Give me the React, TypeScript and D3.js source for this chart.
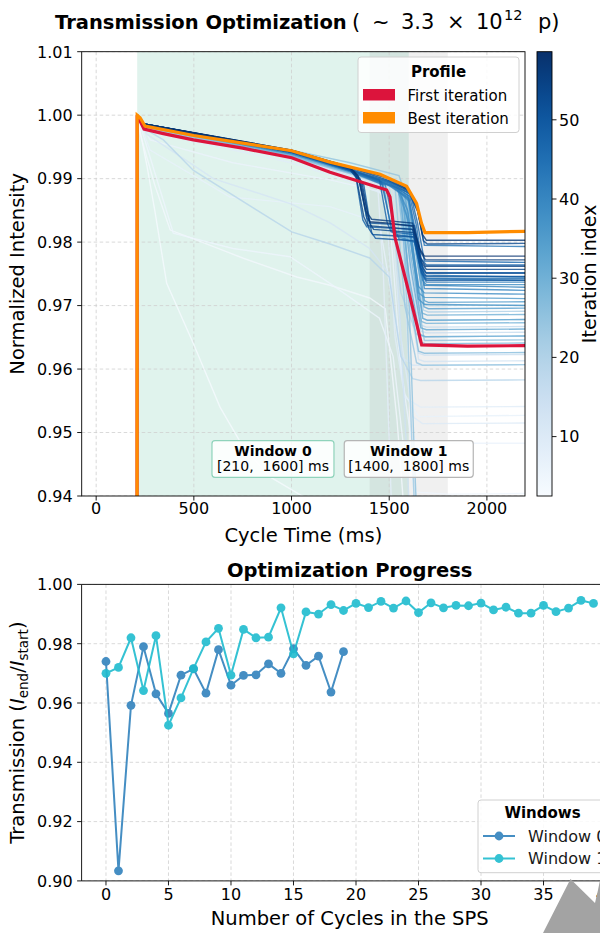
import * as d3 from 'd3'

type Pt = [number, number]

// ---------- top panel: profiles ----------
const timeTicks = [0, 500, 1000, 1500, 2000]
const intensityTicks = [0.94, 0.95, 0.96, 0.97, 0.98, 0.99, 1.0, 1.01]
const iterTicks = [10, 20, 30, 40, 50]
const windowNames = ['Window 0', 'Window 1']
const windowStart = [210, 1400]
const windowEnd = [1600, 1800]

// iteration index of each trace
const traceIter = [
  3, 4, 5, 6, 7, 8, 9, 10, 11, 12, 13, 14, 15, 16, 17, 18, 19, 20, 21, 22, 23, 24, 25, 26, 27, 28,
  29, 30, 31, 32, 33, 34, 35, 36, 37, 38, 39, 40, 41, 42, 43, 44, 45, 46, 47, 48, 49, 50, 51, 52,
  53, 54, 55, 56, 57, 58,
]
// [time ms, normalized intensity] key points
const tracePts: Pt[][] = [
  [[210, 1], [225, 0.9975], [260, 0.992], [300, 0.985], [361, 0.9735], [498, 0.964], [634, 0.954], [753, 0.9477], [890, 0.943], [1060, 0.9399], [1250, 0.936]],
  [[210, 1], [225, 0.9971], [300, 0.989], [379, 0.9819], [515, 0.9803], [750, 0.9775], [1027, 0.9745], [1197, 0.9732], [1400, 0.9712], [1480, 0.9695], [1540, 0.952], [1580, 0.936]],
  [[210, 1], [240, 0.997], [395, 0.9814], [700, 0.979], [992, 0.9777], [1197, 0.9735], [1450, 0.968], [1520, 0.962], [1580, 0.946], [1640, 0.9406], [1800, 0.9403], [2195, 0.9404]],
  [[210, 1], [276, 0.9961], [700, 0.9925], [1197, 0.9898], [1450, 0.988], [1500, 0.985], [1560, 0.96], [1610, 0.9495], [1660, 0.9483], [2195, 0.9483]],
  [[210, 1], [276, 0.9945], [685, 0.9871], [1197, 0.9856], [1450, 0.983], [1520, 0.97], [1580, 0.956], [1650, 0.9525], [2195, 0.9527]],
  [[210, 1], [240, 0.9983], [1000, 0.9935], [1300, 0.991], [1440, 0.9895], [1470, 0.975], [1510, 0.94], [1530, 0.93]],
  [[210, 1], [250, 0.9975], [1000, 0.9925], [1300, 0.9895], [1480, 0.9875], [1530, 0.965], [1580, 0.9555], [1660, 0.954], [2195, 0.9541]],
  [[210, 1], [250, 0.998], [1000, 0.993], [1300, 0.99], [1500, 0.9885], [1560, 0.965], [1620, 0.9525], [1670, 0.9514], [2195, 0.9515]],
  [[210, 1], [240, 0.998], [1000, 0.9932], [1300, 0.9905], [1560, 0.988], [1600, 0.96], [1630, 0.94], [1650, 0.93]],
  [[210, 1], [260, 0.997], [600, 0.99], [1000, 0.986], [1200, 0.983], [1400, 0.979], [1500, 0.975], [1560, 0.962], [1620, 0.9606], [2195, 0.9607]],
  [[210, 1], [245, 0.998], [1000, 0.9932], [1300, 0.9905], [1550, 0.9885], [1600, 0.975], [1650, 0.9615], [1680, 0.9612], [2195, 0.9613]],
  [[210, 1], [245, 0.998], [1000, 0.9935], [1300, 0.991], [1520, 0.9885], [1560, 0.965], [1600, 0.94], [1620, 0.93]],
  [[210, 1], [245, 0.998], [1000, 0.9935], [1300, 0.991], [1540, 0.9887], [1590, 0.972], [1650, 0.9625], [1680, 0.9622], [2195, 0.9623]],
  [[210, 1], [245, 0.998], [1000, 0.9934], [1300, 0.9908], [1560, 0.9887], [1610, 0.975], [1660, 0.966], [1690, 0.9657], [2195, 0.9658]],
  [[210, 1], [245, 0.9981], [1000, 0.9936], [1300, 0.991], [1570, 0.9886], [1615, 0.976], [1665, 0.9669], [1690, 0.9666], [2195, 0.9667]],
  [[210, 1], [245, 0.9982], [1000, 0.9937], [1300, 0.9911], [1575, 0.9886], [1620, 0.977], [1670, 0.968], [1695, 0.9677], [2195, 0.9678]],
  [[210, 1], [240, 0.998], [344, 0.9961], [498, 0.9913], [1001, 0.9816], [1197, 0.9797], [1400, 0.9775], [1500, 0.9745], [1560, 0.962], [1620, 0.9585], [1660, 0.9582], [2195, 0.9583]],
  [[210, 1], [245, 0.998], [1000, 0.9935], [1300, 0.9908], [1500, 0.9888], [1560, 0.972], [1640, 0.9655], [1680, 0.9651], [2195, 0.9652]],
  [[210, 1], [245, 0.9982], [1000, 0.9937], [1300, 0.9911], [1580, 0.9887], [1630, 0.977], [1675, 0.9693], [1700, 0.969], [2195, 0.9691]],
  [[210, 1], [245, 0.9982], [1000, 0.9938], [1300, 0.9912], [1585, 0.9888], [1635, 0.978], [1680, 0.9703], [1700, 0.97], [2195, 0.9701]],
  [[210, 1], [245, 0.998], [1000, 0.9935], [1300, 0.991], [1560, 0.9887], [1590, 0.97], [1620, 0.945], [1640, 0.93]],
  [[210, 1], [245, 0.998], [1000, 0.9934], [1300, 0.9908], [1530, 0.9886], [1580, 0.97], [1640, 0.961], [1670, 0.9606], [2195, 0.9607]],
  [[210, 1], [245, 0.9984], [1000, 0.9945], [1300, 0.9925], [1550, 0.9905], [1600, 0.986], [1650, 0.97], [1680, 0.9645], [2195, 0.9646]],
  [[210, 1], [245, 0.9982], [1000, 0.9936], [1300, 0.991], [1570, 0.9886], [1600, 0.972], [1630, 0.945], [1650, 0.93]],
  [[210, 1], [245, 0.9982], [1000, 0.9936], [1300, 0.9909], [1545, 0.9886], [1600, 0.972], [1650, 0.9628], [1680, 0.9625], [2195, 0.9626]],
  [[210, 1], [245, 0.9982], [1000, 0.9937], [1300, 0.991], [1555, 0.9887], [1605, 0.973], [1655, 0.9643], [1685, 0.964], [2195, 0.9641]],
  [[210, 1], [245, 0.9983], [1000, 0.9938], [1300, 0.9911], [1560, 0.9888], [1610, 0.978], [1665, 0.9675], [1690, 0.9672], [2195, 0.9673]],
  [[210, 1], [245, 0.9983], [1000, 0.9939], [1300, 0.9912], [1570, 0.9888], [1620, 0.978], [1670, 0.9688], [1695, 0.9685], [2195, 0.9686]],
  [[210, 1], [245, 0.9983], [1000, 0.9938], [1300, 0.991], [1550, 0.9887], [1600, 0.975], [1655, 0.9655], [1685, 0.9651], [2195, 0.9652]],
  [[210, 1], [245, 0.9983], [1000, 0.9939], [1300, 0.9911], [1560, 0.9887], [1610, 0.976], [1662, 0.9665], [1690, 0.9662], [2195, 0.9663]],
  [[210, 1], [245, 0.9984], [1000, 0.9939], [1300, 0.9912], [1575, 0.9888], [1625, 0.978], [1672, 0.968], [1695, 0.9677], [2195, 0.9678]],
  [[210, 1], [245, 0.9984], [1000, 0.994], [1300, 0.9913], [1585, 0.9888], [1635, 0.979], [1678, 0.9698], [1700, 0.9695], [2195, 0.9696]],
  [[210, 1], [245, 0.9984], [1000, 0.994], [1300, 0.9913], [1590, 0.9886], [1640, 0.979], [1680, 0.9708], [1700, 0.9705], [2195, 0.9706]],
  [[210, 1], [245, 0.9984], [1000, 0.994], [1300, 0.9913], [1540, 0.9885], [1590, 0.984], [1650, 0.972], [1680, 0.9713], [2195, 0.9711]],
  [[210, 1], [245, 0.9984], [1000, 0.9939], [1300, 0.9912], [1550, 0.9885], [1600, 0.983], [1650, 0.971], [1680, 0.9702], [2195, 0.97]],
  [[210, 1], [245, 0.9984], [1000, 0.994], [1300, 0.9913], [1540, 0.9886], [1595, 0.985], [1650, 0.973], [1680, 0.972], [2195, 0.9718]],
  [[210, 1], [245, 0.9984], [1000, 0.994], [1300, 0.9911], [1470, 0.989], [1510, 0.982], [1530, 0.981], [1630, 0.98], [1670, 0.974], [1690, 0.9733], [2195, 0.9733]],
  [[210, 1], [245, 0.9985], [1000, 0.9941], [1300, 0.9912], [1520, 0.9888], [1600, 0.9865], [1645, 0.979], [1680, 0.9727], [2195, 0.9724]],
  [[210, 1], [245, 0.9985], [1000, 0.9941], [1300, 0.9913], [1500, 0.9889], [1600, 0.9868], [1640, 0.98], [1680, 0.9732], [2195, 0.9729]],
  [[210, 1], [245, 0.9985], [1000, 0.9941], [1300, 0.9913], [1500, 0.989], [1600, 0.987], [1640, 0.981], [1680, 0.9742], [2195, 0.974]],
  [[210, 1], [245, 0.9985], [1000, 0.9941], [1300, 0.9912], [1480, 0.989], [1530, 0.982], [1550, 0.9805], [1630, 0.98], [1665, 0.975], [1690, 0.9737], [2195, 0.9737]],
  [[210, 1], [245, 0.9985], [1000, 0.9942], [1300, 0.9914], [1600, 0.9878], [1650, 0.9845], [1680, 0.9795], [2195, 0.9793]],
  [[210, 1], [245, 0.9985], [1000, 0.9942], [1300, 0.9914], [1500, 0.9893], [1605, 0.9872], [1640, 0.9825], [1675, 0.9748], [2195, 0.9745]],
  [[210, 1], [245, 0.9985], [1000, 0.9942], [1300, 0.9913], [1460, 0.9895], [1510, 0.9825], [1530, 0.9812], [1630, 0.9808], [1665, 0.9755], [1690, 0.9743], [2195, 0.9743]],
  [[210, 1], [245, 0.9985], [1000, 0.9942], [1300, 0.9915], [1500, 0.9895], [1610, 0.9875], [1645, 0.983], [1680, 0.977], [2195, 0.9768]],
  [[210, 1], [245, 0.9985], [1000, 0.9942], [1300, 0.9914], [1450, 0.9898], [1490, 0.983], [1510, 0.9816], [1625, 0.9812], [1660, 0.9775], [1690, 0.9764], [2195, 0.9764]],
  [[210, 1], [245, 0.9985], [1000, 0.9942], [1300, 0.9915], [1330, 0.9902], [1365, 0.9835], [1385, 0.9824], [1620, 0.982], [1660, 0.9765], [1685, 0.9752], [2195, 0.9752]],
  [[210, 1], [245, 0.9985], [1000, 0.9942], [1300, 0.9913], [1370, 0.989], [1410, 0.9815], [1430, 0.9806], [1630, 0.9802], [1665, 0.9752], [1690, 0.974], [2195, 0.974]],
  [[210, 1], [245, 0.9986], [1000, 0.9943], [1300, 0.9914], [1350, 0.9895], [1395, 0.9822], [1415, 0.9812], [1625, 0.9808], [1660, 0.976], [1690, 0.9746], [2195, 0.9746]],
  [[210, 1], [245, 0.9986], [1000, 0.9943], [1300, 0.9916], [1345, 0.9898], [1385, 0.9838], [1405, 0.983], [1630, 0.9826], [1665, 0.9765], [1690, 0.9751], [2195, 0.9751]],
  [[210, 1], [245, 0.9986], [1000, 0.9944], [1300, 0.9917], [1500, 0.9897], [1600, 0.988], [1645, 0.985], [1675, 0.9802], [1695, 0.9797], [2195, 0.9798]],
  [[210, 1], [245, 0.9986], [1000, 0.9943], [1300, 0.9915], [1360, 0.9895], [1400, 0.983], [1420, 0.982], [1625, 0.9815], [1660, 0.977], [1690, 0.9757], [2195, 0.9757]],
  [[210, 1], [245, 0.9986], [1000, 0.9944], [1300, 0.9916], [1330, 0.9905], [1370, 0.984], [1390, 0.9826], [1620, 0.982], [1660, 0.9775], [1685, 0.9762], [2195, 0.9762]],
  [[210, 1], [245, 0.9986], [1000, 0.9944], [1300, 0.9917], [1350, 0.99], [1390, 0.9845], [1410, 0.9836], [1620, 0.983], [1660, 0.9785], [1685, 0.9772], [2195, 0.9772]],
  [[210, 1], [245, 0.9986], [1000, 0.9945], [1300, 0.9918], [1500, 0.99], [1600, 0.9882], [1640, 0.9858], [1670, 0.9812], [1690, 0.9803], [2195, 0.9803]],
  [[210, 1], [245, 0.9986], [1000, 0.9945], [1300, 0.9918], [1340, 0.9905], [1380, 0.985], [1400, 0.9832], [1500, 0.983], [1620, 0.9825], [1655, 0.979], [1680, 0.9778], [2195, 0.9778]],
]

const firstIteration: Pt[] = [
  [209, 0.9], [210, 1.0], [245, 0.9978], [344, 0.9971], [498, 0.9961], [750, 0.9948], [1001, 0.9933],
  [1197, 0.991], [1487, 0.9882], [1504, 0.9871], [1529, 0.9808], [1589, 0.9735], [1640, 0.9672],
  [1666, 0.9638], [1900, 0.9636], [2195, 0.9637],
]
const bestIteration: Pt[] = [
  [209, 0.9], [210, 1.0], [225, 0.9996], [250, 0.9983], [500, 0.9968], [750, 0.9956], [1000, 0.9944],
  [1197, 0.9926], [1453, 0.9907], [1589, 0.9888], [1640, 0.9861], [1665, 0.983], [1683, 0.9815],
  [1900, 0.9815], [2195, 0.9817],
]

// ---------- bottom panel: progress ----------
const cycleTicks = [0, 5, 10, 15, 20, 25, 30, 35, 40]
const transTicks = [0.9, 0.92, 0.94, 0.96, 0.98, 1.0]
const window0 = [
  0.974, 0.9034, 0.9592, 0.979, 0.9631, 0.9565, 0.9694, 0.9715, 0.9633, 0.978, 0.966, 0.9693,
  0.9695, 0.9732, 0.97, 0.9783, 0.9727, 0.9758, 0.9637, 0.9773,
]
const window1 = [
  0.97, 0.972, 0.982, 0.9642, 0.9827, 0.9525, 0.9617, 0.9716, 0.9806, 0.9852, 0.9694, 0.9848,
  0.982, 0.9822, 0.9921, 0.9766, 0.9907, 0.99, 0.9932, 0.9912, 0.9936, 0.9922, 0.9943, 0.992,
  0.9944, 0.9905, 0.9938, 0.9921, 0.9929, 0.9928, 0.9937, 0.9914, 0.9923, 0.9903, 0.9903,
  0.9929, 0.9908, 0.992, 0.9946, 0.9936,
]
const seriesNames = ['Window 0', 'Window 1']
const seriesColors = ['#3182bd', '#1fbccf']

const FONT = 'DejaVu Sans, sans-serif'

export default function App() {
  // top axes
  const x = d3.scaleLinear().domain([-74, 2195]).range([81.7, 525])
  const y = d3.scaleLinear().domain([0.94, 1.01]).range([496, 51.7])
  const cScale = d3.scaleSequential(d3.interpolateBlues).domain([2.5, 58.6])
  const cbY = d3.scaleLinear().domain([2.5, 58.6]).range([496, 51.7])
  const line = d3
    .line<Pt>()
    .x((d) => x(d[0]))
    .y((d) => y(d[1]))

  // bottom axes
  const bx = d3.scaleLinear().domain([-1.95, 40.95]).range([81.6, 617.9])
  const by = d3.scaleLinear().domain([0.9, 1.0]).range([880.9, 584.4])
  const bline = d3
    .line<number>()
    .x((_, i) => bx(i))
    .y((d) => by(d))

  const [xl, xr] = x.range()
  const [yb, yt] = y.range()
  const [bxl] = bx.range()
  const [byb, byt] = by.range()
  const gridStyle = { stroke: '#cfcfcf', strokeWidth: 0.8, strokeDasharray: '3.5 2.5' }

  return (
    <svg
      width={600}
      height={933}
      style={{ position: 'absolute', left: 0, top: 0, background: '#fff' }}
      fontFamily={FONT}
    >
      <defs>
        <clipPath id="topClip">
          <rect x={xl} y={yt} width={xr - xl} height={yb - yt} />
        </clipPath>
        <clipPath id="botClip">
          <rect x={bxl} y={byt} width={600 - bxl} height={byb - byt} />
        </clipPath>
        <linearGradient id="cbar" x1="0" y1="1" x2="0" y2="0">
          {d3.range(0, 1.0001, 0.05).map((t) => (
            <stop key={t} offset={t} stopColor={d3.interpolateBlues(t)} />
          ))}
        </linearGradient>
      </defs>

      {/* ---------- title ---------- */}
      <text x={55} y={29} fontSize={19.5} fontWeight="bold">
        Transmission Optimization
      </text>
      <g fontSize={21}>
        <text x={352} y={29}>(</text>
        <text x={372} y={29}>~</text>
        <text x={401} y={29}>3.3</text>
        <text x={447} y={29}>×</text>
        <text x={476} y={29}>10</text>
        <text x={504} y={20} fontSize={14.5}>12</text>
        <text x={538} y={29}>p)</text>
      </g>

      {/* ---------- top panel ---------- */}
      <g clipPath="url(#topClip)">
        <rect x={x(windowStart[0])} y={yt} width={x(windowEnd[0]) - x(windowStart[0])} height={yb - yt} fill="#66c2a5" opacity={0.2} />
        <rect x={x(windowStart[1])} y={yt} width={x(windowEnd[1]) - x(windowStart[1])} height={yb - yt} fill="#808080" opacity={0.12} />
        {timeTicks.map((t) => (
          <line key={'gx' + t} x1={x(t)} x2={x(t)} y1={yt} y2={yb} style={gridStyle} />
        ))}
        {intensityTicks.map((v) => (
          <line key={'gy' + v} x1={xl} x2={xr} y1={y(v)} y2={y(v)} style={gridStyle} />
        ))}
        {tracePts.map((pts, i) => (
          <path
            key={'tr' + i}
            d={line(pts) ?? undefined}
            fill="none"
            stroke={cScale(traceIter[i])}
            strokeWidth={1.4}
            strokeOpacity={0.8}
          />
        ))}
        <path d={line(firstIteration) ?? undefined} fill="none" stroke="#dc143c" strokeWidth={3.2} />
        <path d={line(bestIteration) ?? undefined} fill="none" stroke="#ff8c00" strokeWidth={3.2} />
      </g>

      {/* window annotations */}
      {windowNames.map((nm, i) => {
        const cx = x((windowStart[i] + windowEnd[i]) / 2)
        const w = i === 0 ? 122 : 129
        return (
          <g key={nm}>
            <rect
              x={cx - w / 2}
              y={440.7}
              width={w}
              height={36.6}
              rx={3}
              fill="#fff"
              fillOpacity={0.85}
              stroke={i === 0 ? '#8fd3bb' : '#b5b5b5'}
              strokeWidth={1.2}
            />
            <text x={cx} y={456} textAnchor="middle" fontSize={14} fontWeight="bold">
              {nm}
            </text>
            <text x={cx} y={471} textAnchor="middle" fontSize={14} style={{ whiteSpace: 'pre' }}>
              {`[${windowStart[i]},  ${windowEnd[i]}] ms`}
            </text>
          </g>
        )
      })}

      {/* frame */}
      <rect x={xl} y={yt} width={xr - xl} height={yb - yt} fill="none" stroke="#000" strokeWidth={0.9} />
      {timeTicks.map((t) => (
        <g key={'xt' + t}>
          <line x1={x(t)} x2={x(t)} y1={yb} y2={yb + 4.5} stroke="#000" strokeWidth={0.9} />
          <text x={x(t)} y={514} textAnchor="middle" fontSize={16}>
            {t}
          </text>
        </g>
      ))}
      {intensityTicks.map((v) => (
        <g key={'yt' + v}>
          <line x1={xl - 4.5} x2={xl} y1={y(v)} y2={y(v)} stroke="#000" strokeWidth={0.9} />
          <text x={xl - 9} y={y(v) + 5.8} textAnchor="end" fontSize={16}>
            {v.toFixed(2)}
          </text>
        </g>
      ))}
      <text x={(xl + xr) / 2} y={542} textAnchor="middle" fontSize={19.5}>
        Cycle Time (ms)
      </text>
      <text transform={`translate(24,${(yt + yb) / 2}) rotate(-90)`} textAnchor="middle" fontSize={19.5}>
        Normalized Intensity
      </text>

      {/* legend: Profile */}
      <rect x={358} y={57} width={161} height={75.5} rx={3} fill="#fff" fillOpacity={0.85} stroke="#d0d0d0" />
      <text x={438.5} y={77} textAnchor="middle" fontSize={15} fontWeight="bold">
        Profile
      </text>
      <rect x={363} y={89} width={32} height={11.5} fill="#dc143c" />
      <text x={407.5} y={100.5} fontSize={15}>
        First iteration
      </text>
      <rect x={363} y={112} width={32} height={11.5} fill="#ff8c00" />
      <text x={407.5} y={123.5} fontSize={15}>
        Best iteration
      </text>

      {/* colorbar */}
      <rect x={537} y={yt} width={15} height={yb - yt} fill="url(#cbar)" stroke="#000" strokeWidth={0.9} />
      {iterTicks.map((v) => (
        <g key={'cb' + v}>
          <line x1={552} x2={556.5} y1={cbY(v)} y2={cbY(v)} stroke="#000" strokeWidth={0.9} />
          <text x={559} y={cbY(v) + 5.8} fontSize={16}>
            {v}
          </text>
        </g>
      ))}
      <text transform={`translate(595.5,${(yt + yb) / 2}) rotate(-90)`} textAnchor="middle" fontSize={19}>
        Iteration index
      </text>

      {/* ---------- bottom panel ---------- */}
      <text x={(bx.range()[0] + bx.range()[1]) / 2} y={577} textAnchor="middle" fontSize={19.5} fontWeight="bold">
        Optimization Progress
      </text>
      <g clipPath="url(#botClip)">
        {cycleTicks.map((t) => (
          <line key={'bgx' + t} x1={bx(t)} x2={bx(t)} y1={byt} y2={byb} style={gridStyle} />
        ))}
        {transTicks.map((v) => (
          <line key={'bgy' + v} x1={bxl} x2={600} y1={by(v)} y2={by(v)} style={gridStyle} />
        ))}
        {[window0, window1].map((vals, k) => (
          <g key={'s' + k} opacity={0.9}>
            <path d={bline(vals) ?? undefined} fill="none" stroke={seriesColors[k]} strokeWidth={2} />
            {vals.map((v, i) => (
              <circle key={i} cx={bx(i)} cy={by(v)} r={4.4} fill={seriesColors[k]} />
            ))}
          </g>
        ))}
      </g>
      <line x1={bxl} x2={600} y1={byt} y2={byt} stroke="#000" strokeWidth={0.9} />
      <line x1={bxl} x2={600} y1={byb} y2={byb} stroke="#000" strokeWidth={0.9} />
      <line x1={bxl} x2={bxl} y1={byt} y2={byb} stroke="#000" strokeWidth={0.9} />
      {cycleTicks.map((t) => (
        <g key={'bxt' + t}>
          <line x1={bx(t)} x2={bx(t)} y1={byb} y2={byb + 4.5} stroke="#000" strokeWidth={0.9} />
          <text x={bx(t)} y={900} textAnchor="middle" fontSize={16}>
            {t}
          </text>
        </g>
      ))}
      {transTicks.map((v) => (
        <g key={'byt' + v}>
          <line x1={bxl - 4.5} x2={bxl} y1={by(v)} y2={by(v)} stroke="#000" strokeWidth={0.9} />
          <text x={bxl - 9} y={by(v) + 5.8} textAnchor="end" fontSize={16}>
            {v.toFixed(2)}
          </text>
        </g>
      ))}
      <text x={349.7} y={925} textAnchor="middle" fontSize={19.5}>
        Number of Cycles in the SPS
      </text>
      <text transform={`translate(24,${(byt + byb) / 2}) rotate(-90)`} textAnchor="middle" fontSize={19.5}>
        <tspan>Transmission (</tspan>
        <tspan fontStyle="italic">I</tspan>
        <tspan fontSize={13.5} dy={4}>end</tspan>
        <tspan dy={-4}>/</tspan>
        <tspan fontStyle="italic">I</tspan>
        <tspan fontSize={13.5} dy={4}>start</tspan>
        <tspan dy={-4}>)</tspan>
      </text>

      {/* legend: Windows */}
      <rect x={478} y={800} width={150} height={72.7} rx={3} fill="#fff" fillOpacity={0.85} stroke="#d0d0d0" />
      <text x={542.5} y={818} textAnchor="middle" fontSize={15} fontWeight="bold">
        Windows
      </text>
      {seriesNames.map((nm, k) => (
        <g key={nm} opacity={0.9}>
          <line x1={483} x2={515} y1={836 + k * 22.5} y2={836 + k * 22.5} stroke={seriesColors[k]} strokeWidth={2} />
          <circle cx={499} cy={836 + k * 22.5} r={4.4} fill={seriesColors[k]} />
          <text x={528} y={841.5 + k * 22.5} fontSize={16} fill="#000">
            {nm}
          </text>
        </g>
      ))}

      {/* grey shape in the lower right corner */}
      <polygon points="543,933 570.5,879 595,903 598,890 600,880 600,933" fill="#a3a3a3" />
    </svg>
  )
}
